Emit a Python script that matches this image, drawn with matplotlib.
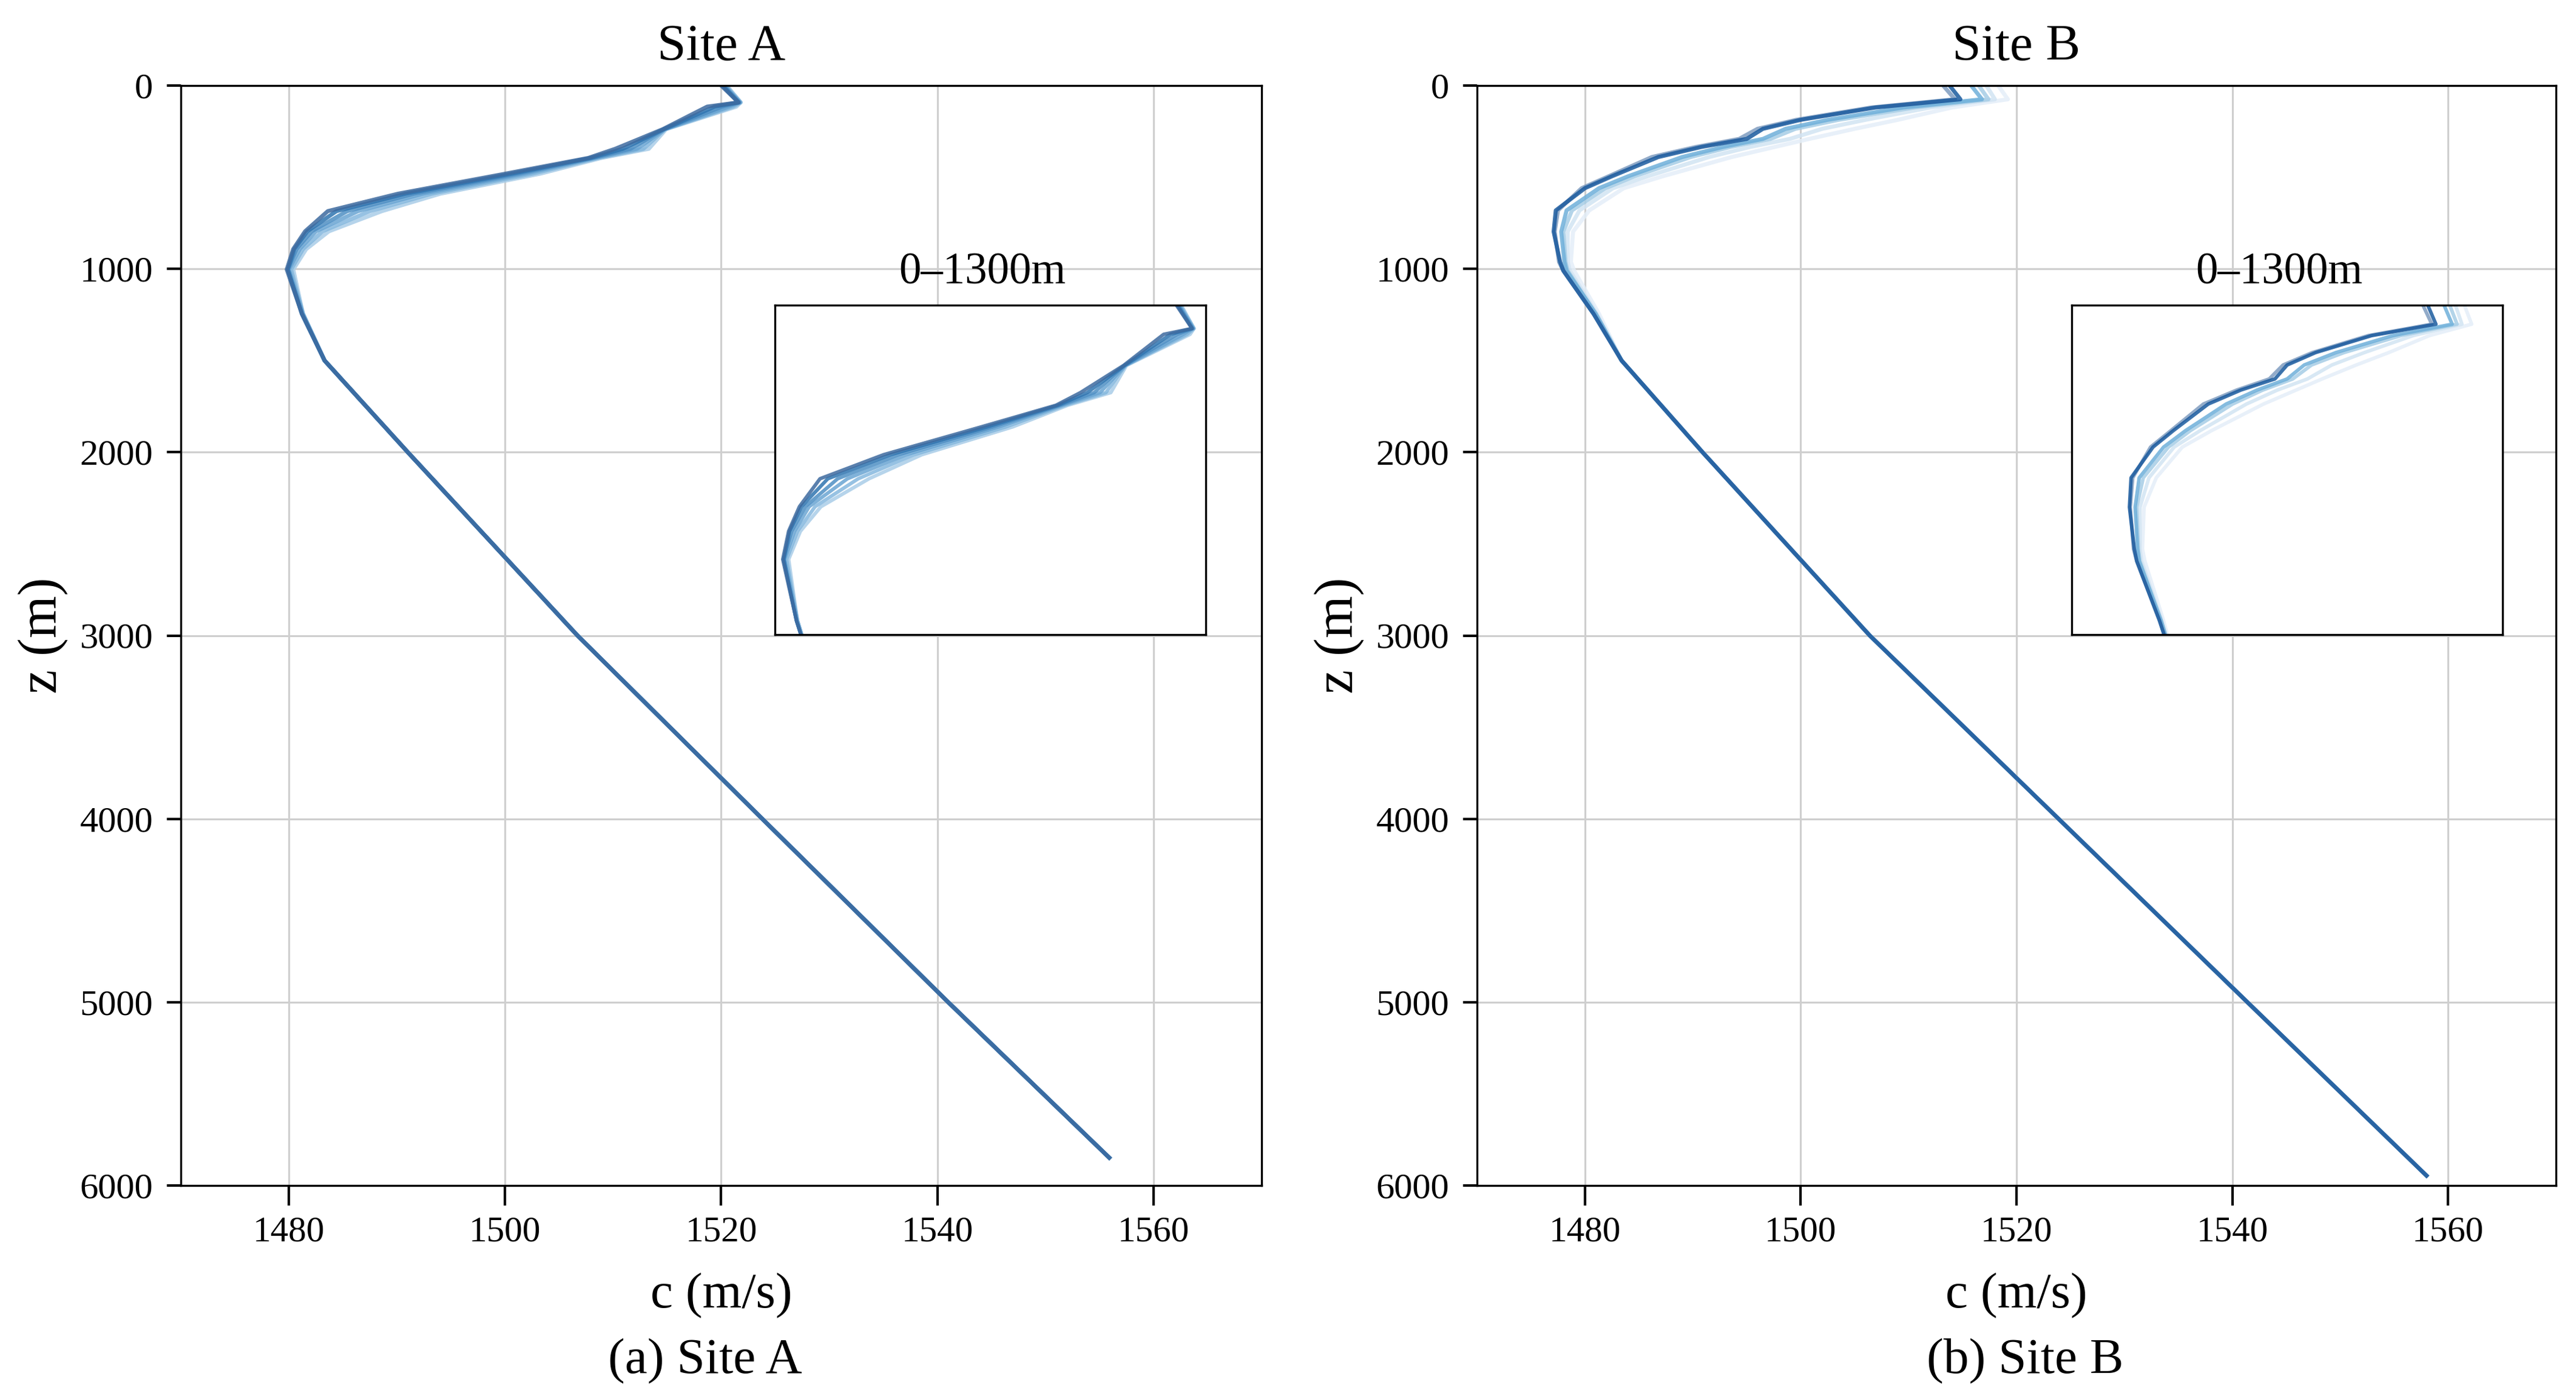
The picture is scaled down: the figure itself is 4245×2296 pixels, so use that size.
import matplotlib
matplotlib.use("Agg")
import matplotlib.pyplot as plt

# depth levels (m) where the profiles bend
z_a = [0, 92, 115, 238, 345, 395, 480, 590, 685, 795, 892, 1003, 1245]
z_b = [0, 75, 120, 187, 236, 291, 335, 390, 495, 560, 681, 797, 962, 1010, 1245]

# deep part, nearly the same for all profiles
z_deep_a = [1500, 2000, 3000, 4000, 5000, 5848]
c_deep_a = [1483.3, 1491.0, 1506.7, 1523.8, 1541.0, 1555.9]
z_deep_b = [1500, 2000, 3000, 4000, 5000, 5946]
c_deep_b = [1483.4, 1490.9, 1506.4, 1523.9, 1541.4, 1558.0]

# Site A sound speed profiles, lightest first
a1 = [1520.5, 1521.8, 1521.4, 1514.9, 1513.3, 1508.9, 1503.3, 1494.0, 1488.6, 1483.7, 1481.6, 1480.4, 1481.3]
a2 = [1520.4, 1521.8, 1521.1, 1514.8, 1512.8, 1508.6, 1502.6, 1493.2, 1487.5, 1483.1, 1481.3, 1480.2, 1481.3]
a3 = [1520.3, 1521.7, 1520.7, 1514.8, 1512.2, 1508.3, 1501.9, 1492.4, 1486.4, 1482.5, 1481.0, 1480.0, 1481.3]
a4 = [1520.2, 1521.7, 1520.1, 1514.7, 1511.6, 1508.1, 1501.3, 1491.6, 1485.4, 1482.1, 1480.7, 1479.9, 1481.2]
a5 = [1520.1, 1521.6, 1519.4, 1514.7, 1510.9, 1507.9, 1500.7, 1490.8, 1484.4, 1481.7, 1480.5, 1479.9, 1481.2]
a6 = [1520.0, 1521.6, 1518.7, 1514.6, 1510.2, 1507.7, 1500.1, 1490.1, 1483.6, 1481.5, 1480.4, 1479.8, 1481.2]

# Site B sound speed profiles, lightest first
b1 = [1518.3, 1519.2, 1514.0, 1509.0, 1505.0, 1500.8, 1497.6, 1493.6, 1487.2, 1483.6, 1480.4, 1478.9, 1478.7, 1479.0, 1481.3]
b2 = [1517.2, 1518.0, 1512.0, 1506.0, 1502.0, 1499.0, 1495.3, 1491.5, 1485.8, 1482.6, 1479.5, 1478.4, 1478.4, 1478.6, 1481.1]
b3 = [1516.5, 1517.4, 1510.5, 1503.5, 1499.5, 1497.2, 1493.5, 1489.8, 1484.6, 1481.9, 1478.8, 1478.0, 1478.2, 1478.4, 1481.0]
b4 = [1515.8, 1516.8, 1509.5, 1502.5, 1498.6, 1496.5, 1492.8, 1489.0, 1484.0, 1481.3, 1478.3, 1477.8, 1478.1, 1478.3, 1481.0]
b5 = [1513.2, 1514.3, 1506.5, 1499.6, 1496.0, 1494.3, 1490.3, 1486.2, 1482.2, 1479.7, 1477.5, 1477.2, 1477.6, 1478.0, 1480.8]
b6 = [1513.8, 1514.8, 1506.9, 1500.0, 1496.5, 1495.0, 1490.8, 1486.8, 1482.5, 1480.0, 1477.3, 1477.1, 1477.7, 1478.0, 1480.8]

colors_a = ["#a9cde8", "#85b8de", "#6aa5d3", "#4f8fc4", "#2f74b0", "#3d6a9f"]
colors_b = ["#e4eef8", "#d2e4f3", "#a6cde6", "#6fb0da", "#7f9cc0", "#1a5a9e"]

x_ticks = [1480, 1500, 1520, 1540, 1560]
y_ticks = [0, 1000, 2000, 3000, 4000, 5000, 6000]

W, H = 4245, 2296
plt.rcParams["font.family"] = ["Liberation Serif", "DejaVu Serif"]


def make_axes(fig, left, top, right, bottom):
    return fig.add_axes([left / W, 1 - bottom / H, (right - left) / W, (bottom - top) / H])


def draw_lines(ax, z, lines, colors, z_deep, c_deep, lw):
    for line, col in zip(lines, colors):
        ax.plot(line + c_deep, z + z_deep, color=col, lw=lw, alpha=0.85)


def draw_site(fig, box, inset_box, inset_xlim, z, lines, colors, z_deep, c_deep, name, caption, caption_x):
    ax = make_axes(fig, *box)
    draw_lines(ax, z, lines, colors, z_deep, c_deep, 1.6)
    ax.set_xlim(1470, 1570)
    ax.set_ylim(6000, 0)
    ax.set_xticks(x_ticks)
    ax.set_yticks(y_ticks)
    ax.tick_params(axis="x", labelsize=14.2, length=8, width=1, pad=4)
    ax.tick_params(axis="y", labelsize=14.5, length=5.5, width=1, pad=5.5)
    ax.grid(True, color="#cfcfcf", lw=0.75)
    ax.set_axisbelow(True)
    ax.set_title(name, fontsize=20.5, pad=10)
    ax.set_xlabel("c (m/s)", fontsize=20, labelpad=9.5)
    ax.set_ylabel("z (m)", fontsize=21.5, labelpad=4.7)
    ax.text(caption_x, -0.16, caption, transform=ax.transAxes, fontsize=20, ha="center", va="center")

    ins = make_axes(fig, *inset_box)
    draw_lines(ins, z, lines, colors, z_deep, c_deep, 1.4)
    ins.set_xlim(*inset_xlim)
    ins.set_ylim(1300, 0)
    ins.set_xticks([])
    ins.set_yticks([])
    ins.set_title("0\u20131300m", fontsize=17.5, pad=8.5, x=0.482)


fig = plt.figure(figsize=(W / 300, H / 300), dpi=300)

draw_site(fig, (298, 141, 2079, 1954), (1277, 503, 1987, 1046), (1479, 1523),
          z_a, [a1, a2, a3, a4, a5, a6], colors_a, z_deep_a, c_deep_a, "Site A", "(a) Site A", 0.485)
draw_site(fig, (2434, 141, 4212, 1954), (3414, 503, 4124, 1046), (1470, 1523),
          z_b, [b1, b2, b3, b4, b5, b6], colors_b, z_deep_b, c_deep_b, "Site B", "(b) Site B", 0.508)

fig.savefig("out.png", dpi=300)
